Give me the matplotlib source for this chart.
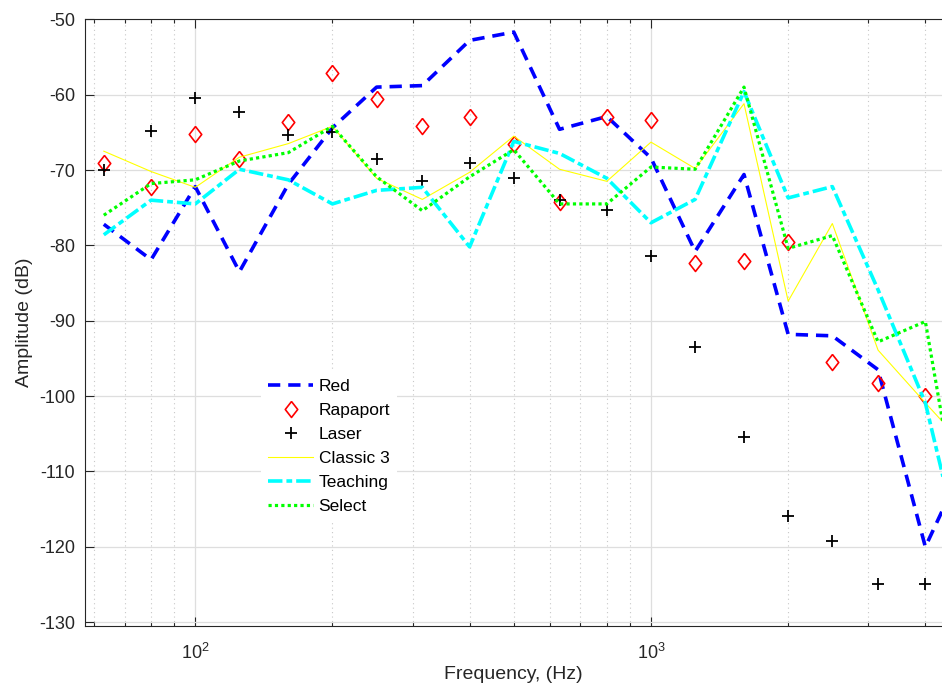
import matplotlib
matplotlib.use("Agg")
import matplotlib.pyplot as plt
from matplotlib.ticker import LogLocator, NullFormatter, MultipleLocator

plt.rcParams["font.family"] = ["Liberation Sans", "DejaVu Sans"]
plt.rcParams["axes.unicode_minus"] = False
plt.rcParams["mathtext.fontset"] = "custom"
plt.rcParams["mathtext.rm"] = "Liberation Sans"

# third-octave band centres (Hz); the last band lies just past the cropped edge
freq = [63, 80, 100, 125, 160, 200, 250, 315, 400, 500, 630, 800,
        1000, 1250, 1600, 2000, 2500, 3150, 4000, 5000]

red = [-77.2, -81.9, -72.2, -83.5, -71.9, -64.4, -59.0, -58.8, -52.8, -51.7,
       -64.6, -62.9, -68.4, -80.8, -70.6, -91.8, -92.0, -96.5, -120.0, -107.5]
rapaport = [-69.1, -72.3, -65.2, -68.5, -63.6, -57.1, -60.6, -64.2, -63.0, -66.5,
            -74.3, -63.0, -63.4, -82.3, -82.1, -79.6, -95.5, -98.3, -100.0]
laser = [-70.0, -64.8, -60.5, -62.3, -65.4, -65.0, -68.5, -71.5, -69.1, -71.0,
         -74.0, -75.3, -81.4, -93.5, -105.4, -115.9, -119.2, -124.9, -124.9]
classic3 = [-67.5, -70.2, -72.3, -68.3, -66.5, -64.2, -71.1, -73.9, -70.3, -65.5,
            -69.9, -71.5, -66.3, -69.8, -61.2, -87.4, -77.1, -93.9, -100.9, -107.3]
teaching = [-78.6, -74.0, -74.5, -69.9, -71.3, -74.5, -72.7, -72.3, -80.2, -66.2,
            -67.8, -71.1, -77.0, -73.9, -59.6, -73.7, -72.2, -85.9, -100.9, -125.4]
select = [-76.0, -71.8, -71.3, -68.8, -67.7, -64.2, -70.9, -75.4, -70.9, -67.3,
          -74.5, -74.5, -69.6, -69.9, -59.0, -80.4, -78.7, -92.8, -90.1, -123.9]

INK = "#262626"
diamond = [(0, 1), (0.78, 0), (0, -1), (-0.78, 0), (0, 1)]

fig = plt.figure(figsize=(9.42, 6.96), dpi=100)
ax = fig.add_axes([0.0899, 0.1006, 0.9101, 0.8717])

ax.plot(freq, red, color="#0000ff", lw=2.6, dashes=(3.4, 2.2), label="Red")
ax.plot(freq[:len(rapaport)], rapaport, ls="none", marker=diamond, ms=11.5,
        mfc="none", mec="#ff0000", mew=1.2, label="Rapaport")
ax.plot(freq[:len(laser)], laser, ls="none", marker="+", ms=9, mew=1.3,
        color="black", label="Laser")
ax.plot(freq, classic3, color="#ffff00", lw=0.8, label="Classic 3")
ax.plot(freq, teaching, color="#00ffff", lw=2.6, dashes=(4.0, 1.1, 1.6, 1.1),
        label="Teaching")
ax.plot(freq, select, color="#00ff00", lw=2.3, dashes=(1.0, 1.0), label="Select")

ax.set_xscale("log")
ax.set_xlim(57.2, 4351)
ax.set_ylim(-130.5, -50)
ax.yaxis.set_major_locator(MultipleLocator(10))
ax.xaxis.set_major_locator(LogLocator(base=10, numticks=10))
ax.xaxis.set_minor_locator(LogLocator(base=10, subs=range(2, 10), numticks=20))
ax.xaxis.set_minor_formatter(NullFormatter())

ax.grid(True, which="major", color="#dedede", lw=0.9, ls="-")
ax.grid(True, which="minor", axis="x", color="#c8c8c8", lw=0.8, ls=(0, (1, 3)))
ax.set_axisbelow(True)

ax.tick_params(which="both", direction="in", top=True, right=False, colors=INK,
               labelsize=13, width=0.8)
ax.tick_params(which="major", length=6.3)
ax.tick_params(which="minor", length=3.2)
ax.tick_params(axis="x", pad=12)
ax.tick_params(axis="y", pad=7)
for side in ("left", "bottom", "top"):
    ax.spines[side].set_color(INK)
    ax.spines[side].set_linewidth(0.8)
ax.spines["right"].set_visible(False)

ax.set_xlabel("Frequency, (Hz)", fontsize=14, color=INK, labelpad=2)
ax.set_ylabel("Amplitude (dB)", fontsize=14, color=INK, labelpad=4)

leg = ax.legend(loc="upper left", bbox_to_anchor=(0.206, 0.418), fontsize=12.5,
                frameon=True, fancybox=False, framealpha=1, edgecolor="none",
                facecolor="white", handlelength=2.6, handletextpad=0.3,
                labelspacing=0.5, borderpad=0.4, borderaxespad=0)
for t in leg.get_texts():
    t.set_color("black")

fig.savefig("out.png", dpi=100)
